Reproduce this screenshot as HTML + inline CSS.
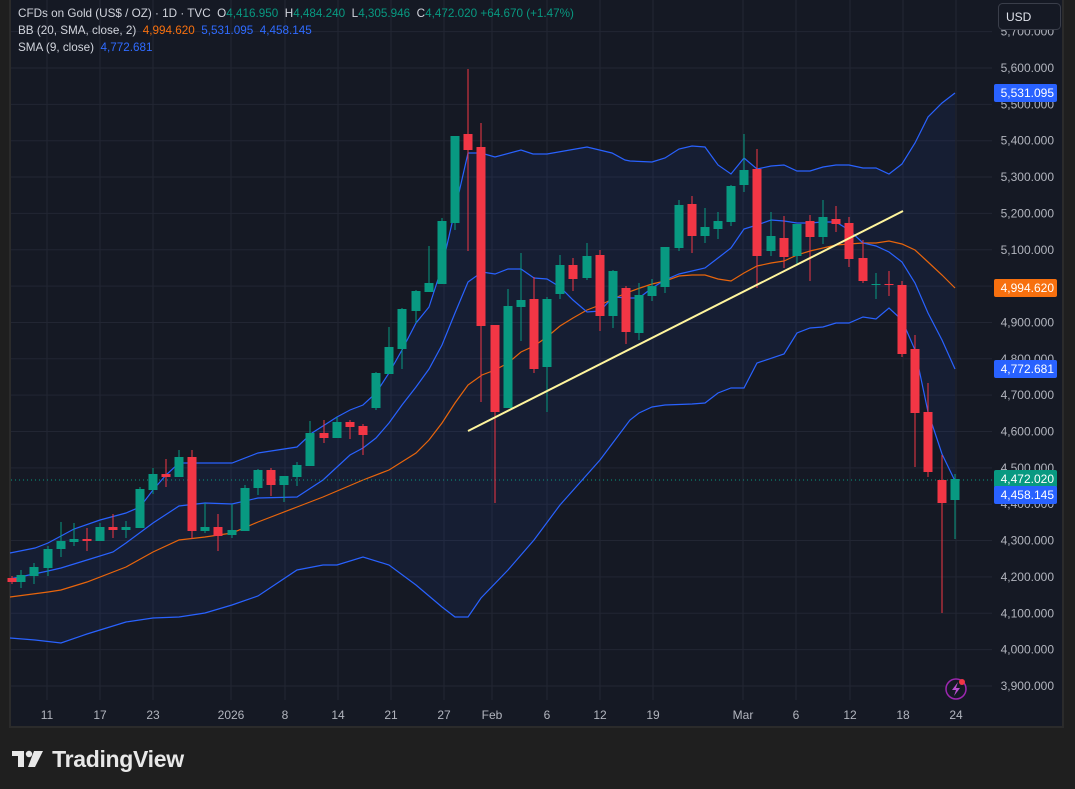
<!DOCTYPE html>
<html><head><meta charset="utf-8">
<style>
html,body{margin:0;padding:0;background:#1f1f1f;width:1075px;height:789px;overflow:hidden;font-family:"Liberation Sans",sans-serif;}
#panel{position:absolute;left:9px;top:-2px;width:1055px;height:730px;border:2px solid #2b2b2b;background:#151924;box-sizing:border-box;}
svg{position:absolute;left:0;top:0;}
.hdr{position:absolute;left:18px;font-size:11.7px;color:#d1d4dc;white-space:nowrap;}
.g{color:#089981}.o{color:#f7700f}.b{color:#2f6bff}
.logo{position:absolute;left:12px;top:746px;color:#e8e8e8;font-size:23px;font-weight:bold;letter-spacing:-0.3px;}
</style></head><body>
<div id="panel"></div>
<svg id="s" width="1075" height="789" xmlns="http://www.w3.org/2000/svg"></svg>
<div class="hdr" style="top:7px">CFDs on Gold (US$ / OZ) · 1D · TVC&nbsp; O<span class="g">4,416.950</span>&nbsp; H<span class="g">4,484.240</span>&nbsp; L<span class="g">4,305.946</span>&nbsp; C<span class="g">4,472.020</span> <span class="g">+64.670 (+1.47%)</span></div>
<div class="hdr" style="top:24px">BB (20, SMA, close, 2)&nbsp; <span class="o">4,994.620</span>&nbsp; <span class="b">5,531.095</span>&nbsp; <span class="b">4,458.145</span></div>
<div class="hdr" style="top:41px">SMA (9, close)&nbsp; <span class="b">4,772.681</span></div>
<div class="logo"><svg width="34" height="20" style="position:relative;left:0;top:2px" viewBox="0 0 34 20"><path d="M0 2h12v16H6V7H0z" fill="#e8e8e8"/><circle cx="17" cy="5" r="3.2" fill="#e8e8e8"/><path d="M22 2h9l-8 16h-7z" fill="#e8e8e8"/></svg> TradingView</div>
<script>
const s=document.getElementById('s');let h='';
const Y=p=>68+(5600-p)/100*36.35;
for(let p=3900;p<=5700;p+=100){const y=Y(p);h+=`<line x1="11" x2="992" y1="${y}" y2="${y}" stroke="#222633" stroke-width="1"/>`;
h+=`<text x="1054" y="${y+4}" fill="#b2b5be" font-size="12" text-anchor="end">${(p/1000|0)+','+String(p%1000).padStart(3,'0')+'.000'}</text>`;}
const xs=[[47,'11'],[100,'17'],[153,'23'],[231,'2026'],[285,'8'],[338,'14'],[391,'21'],[444,'27'],[492,'Feb'],[547,'6'],[600,'12'],[653,'19'],[743,'Mar'],[796,'6'],[850,'12'],[903,'18'],[956,'24']];
xs.forEach(([x,t])=>{h+=`<line x1="${x}" x2="${x}" y1="0" y2="700" stroke="#222633"/>`;h+=`<text x="${x}" y="719" fill="#b2b5be" font-size="12" text-anchor="middle">${t}</text>`;});
const up=[[10,553],[35,548],[48,543],[61,536],[74,529],[100,520],[126,513],[140,507],[153,490],[166,475],[179,463],[232,463],[258,453],[297,447],[312,433],[337,417],[350,410],[363,405],[376,393],[389,373],[402,350],[416,323],[429,307],[442,267],[455,210],[468,153],[481,153],[495,157],[521,150],[533,154],[547,154],[587,147],[612,153],[625,160],[630,161],[652,162],[665,158],[679,149],[692,146],[705,147],[718,165],[731,174],[744,158],[757,169],[771,166],[784,165],[797,171],[810,171],[823,167],[836,165],[849,165],[863,168],[876,168],[889,174],[902,164],[915,143],[928,117],[942,103],[955,93]];
const lo=[[10,638],[35,640],[61,643],[87,634],[100,630],[126,622],[153,618],[179,617],[205,613],[232,605],[258,596],[297,570],[323,565],[337,565],[363,557],[389,565],[416,585],[442,607],[455,617],[468,617],[481,598],[508,570],[534,540],[560,505],[600,460],[630,420],[639,413],[652,407],[665,405],[692,404],[705,403],[718,393],[731,388],[744,388],[757,363],[784,354],[797,333],[810,328],[823,327],[836,323],[849,323],[863,317],[876,319],[889,308],[902,320],[915,350],[928,412],[942,454],[955,481]];
const sma=[[10,579],[48,571],[61,568],[87,560],[113,552],[126,543],[153,523],[179,506],[205,503],[232,504],[258,498],[297,497],[323,480],[350,455],[363,448],[376,438],[389,423],[402,405],[416,387],[429,369],[442,345],[455,313],[468,282],[482,272],[495,274],[508,269],[521,269],[534,278],[547,279],[560,287],[573,300],[587,312],[600,311],[613,297],[630,298],[639,298],[652,288],[665,280],[679,274],[692,271],[705,268],[718,258],[731,248],[744,229],[757,225],[771,220],[784,221],[797,223],[810,223],[823,222],[836,222],[849,230],[863,243],[876,246],[889,252],[902,262],[915,283],[928,313],[942,340],[955,369]];
const bas=[[10,597],[48,592],[61,590],[87,582],[126,567],[153,552],[179,540],[205,537],[232,533],[258,522],[297,507],[323,497],[363,480],[389,470],[416,453],[429,440],[442,423],[455,403],[468,385],[482,375],[495,370],[508,363],[521,352],[534,346],[547,337],[560,326],[573,318],[587,310],[600,305],[613,299],[626,293],[640,288],[652,284],[665,281],[679,276],[692,275],[705,275],[718,279],[731,281],[744,273],[757,266],[771,263],[784,261],[797,255],[810,251],[823,248],[836,245],[849,244],[863,243],[876,243],[889,241],[902,244],[915,250],[928,262],[942,275],[955,288]];
const P=a=>a.map(p=>p.join(',')).join(' ');
h+=`<polygon points="${P(up)} ${P(lo.slice().reverse())}" fill="rgba(41,98,255,0.07)"/>`;
h+=`<polyline points="${P(up)}" fill="none" stroke="#2962ff" stroke-width="1.2"/>`;
h+=`<polyline points="${P(lo)}" fill="none" stroke="#2962ff" stroke-width="1.2"/>`;
h+=`<polyline points="${P(bas)}" fill="none" stroke="#e8650c" stroke-width="1.2"/>`;
h+=`<polyline points="${P(sma)}" fill="none" stroke="#2962ff" stroke-width="1.2"/>`;
h+=`<line x1="11" x2="992" y1="480" y2="480" stroke="#089981" stroke-dasharray="1,3"/>`;
const C=[[12,576,578,582,584,0],[21,570,575,582,588,1],[34,563,567,576,584,1],[48,546,549,568,576,1],[61,522,541,549,557,1],[74,523,539,542,546,1],[87,528,539,541,551,0],[100,523,527,541,541,1],[113,514,527,530,538,0],[126,521,527,530,538,1],[140,487,489,528,528,1],[153,468,474,490,494,1],[166,459,474,477,487,0],[179,450,457,477,477,1],[192,450,457,531,539,0],[205,503,527,531,533,1],[218,514,527,536,551,0],[232,504,530,535,538,1],[245,485,488,531,531,1],[258,469,470,488,495,1],[271,468,470,485,496,0],[284,476,476,485,502,1],[297,462,465,477,486,1],[310,421,433,466,466,1],[324,420,433,438,443,0],[337,417,422,438,438,1],[350,420,422,427,439,0],[363,424,426,435,455,0],[376,372,373,408,410,1],[389,327,347,374,374,1],[402,308,309,349,369,1],[416,290,291,311,323,1],[429,246,283,292,292,1],[442,218,221,284,284,1],[455,136,136,223,230,1],[468,69,134,150,251,0],[481,123,147,326,402,0],[495,325,325,412,503,0],[508,289,306,408,408,1],[521,253,300,307,341,1],[534,277,299,369,373,0],[547,297,299,367,412,1],[560,255,265,294,299,1],[573,258,265,279,291,0],[587,243,256,278,280,1],[600,250,255,316,331,0],[613,270,271,316,328,1],[626,286,288,332,344,0],[639,283,295,333,340,1],[652,279,286,296,301,1],[665,247,247,287,293,1],[679,200,205,248,251,1],[692,196,204,236,253,0],[705,208,227,236,243,1],[718,212,221,229,239,1],[731,185,186,222,226,1],[744,134,170,185,192,1],[757,149,169,256,288,0],[771,212,236,251,256,1],[784,216,238,257,268,0],[797,224,224,256,264,1],[810,215,221,237,281,0],[823,200,217,237,244,1],[836,206,219,224,232,0],[849,217,223,259,267,0],[863,240,258,281,283,0],[876,273,284,285,299,1],[889,271,284,285,296,0],[902,281,285,354,357,0],[915,335,349,413,467,0],[928,383,412,472,477,0],[942,455,480,503,613,0],[955,474,479,500,539,1]];
C.forEach(([x,wt,bt,bb,wb,g])=>{const c=g?'#089981':'#f23645';
h+=`<line x1="${x}" x2="${x}" y1="${wt}" y2="${wb}" stroke="${c}" stroke-width="1"/>`;
h+=`<rect x="${x-4.5}" y="${bt}" width="9" height="${Math.max(1,bb-bt)}" fill="${c}"/>`;});
h+=`<line x1="468" y1="431" x2="903" y2="211" stroke="#fff59d" stroke-width="2"/>`;
const tag=(y,t,c)=>{h+=`<rect x="994" y="${y-9}" width="63" height="18" rx="2" fill="${c}"/><text x="1054" y="${y+4}" fill="#fff" font-size="12" text-anchor="end">${t}</text>`;};
tag(93,'5,531.095','#2962ff');tag(288,'4,994.620','#f7700f');tag(369,'4,772.681','#2962ff');tag(479,'4,472.020','#089981');tag(495,'4,458.145','#2962ff');
h+=`<rect x="998.5" y="3.5" width="62" height="26" rx="4" fill="#151924" stroke="#3a3e4a"/><text x="1006" y="21" fill="#e0e3eb" font-size="12">USD</text>`;
h+=`<circle cx="956" cy="689" r="10" fill="#151924" stroke="#9c27b0" stroke-width="1.5"/><path d="M958 682l-6 8h4l-2 6 6-8h-4z" fill="#b84fd0"/><circle cx="962" cy="682" r="3" fill="#f23645"/>`;
s.innerHTML=h;
</script>
</body></html>
